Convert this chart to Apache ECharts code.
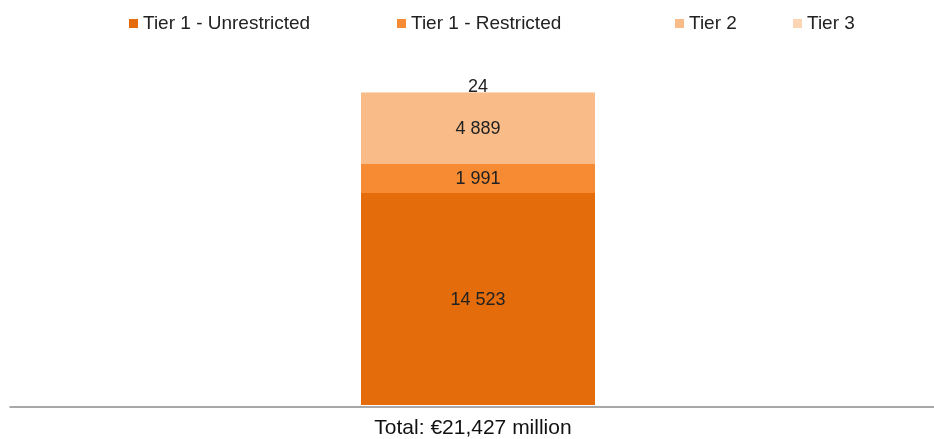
<!DOCTYPE html>
<html>
<head>
<meta charset="utf-8">
<script src="https://cdn.jsdelivr.net/npm/echarts@6/dist/echarts.min.js"></script>
<style>
  html, body { margin: 0; padding: 0; background: #fff; }
  #chart { width: 934px; height: 439px; }
</style>
</head>
<body>
<div id="chart"></div>
<script>
// Own funds by tier, € million
const categories = ['Total: €21,427 million'];
const seriesNames = ['Tier 1 - Unrestricted', 'Tier 1 - Restricted', 'Tier 2', 'Tier 3'];
const tier1Unrestricted = [14523];
const tier1Restricted = [1991];
const tier2 = [4889];
const tier3 = [24];

const colors = ['#E46C0A', '#F68B33', '#F9BB88', '#FCD5B5'];
const values = [tier1Unrestricted, tier1Restricted, tier2, tier3];

// thousands separated by a space, e.g. 14 523
const fmt = v => String(v).replace(/\B(?=(\d{3})+(?!\d))/g, ' ');

const font = 'Liberation Sans, Arial, sans-serif';
const legendLefts = [129, 397, 675, 793];

const chart = echarts.init(document.getElementById('chart'));
chart.setOption({
  animation: false,
  color: colors,
  legend: seriesNames.map((name, i) => ({
    data: [name],
    left: legendLefts[i],
    top: 14,
    padding: 0,
    itemWidth: 9,
    itemHeight: 9,
    icon: 'rect',
    textStyle: { fontFamily: font, fontSize: 19, color: '#222' }
  })),
  grid: [
    // plot area holding the bar
    { left: 22, right: 0, top: 40, bottom: 32, containLabel: false },
    // full-width baseline
    { left: 10, right: 0, top: 40, bottom: 32, containLabel: false }
  ],
  xAxis: [
    {
      type: 'category',
      gridIndex: 0,
      data: categories,
      axisTick: { show: false },
      axisLine: { show: false },
      axisLabel: {
        fontFamily: font, fontSize: 21, color: '#111', margin: 13,
        padding: [0, 10, 0, 0]
      }
    },
    {
      type: 'category',
      gridIndex: 1,
      data: [''],
      axisTick: { show: false },
      axisLabel: { show: false },
      axisLine: { lineStyle: { color: '#8c8c8c', width: 1.5 } }
    }
  ],
  yAxis: [
    { type: 'value', gridIndex: 0, min: 0, max: 25000, show: false, splitLine: { show: false } },
    { type: 'value', gridIndex: 1, min: 0, max: 25000, show: false, splitLine: { show: false } }
  ],
  series: seriesNames.map((name, i) => ({
    name,
    type: 'bar',
    stack: 'total',
    barWidth: 234,
    z: 3,
    data: values[i],
    itemStyle: { color: colors[i] },
    label: {
      show: true,
      position: 'inside',
      offset: i === 3 ? [0, -5] : [0, 1],
      formatter: p => fmt(p.value),
      fontFamily: font,
      fontSize: 18,
      color: '#222'
    }
  }))
});
</script>
</body>
</html>
